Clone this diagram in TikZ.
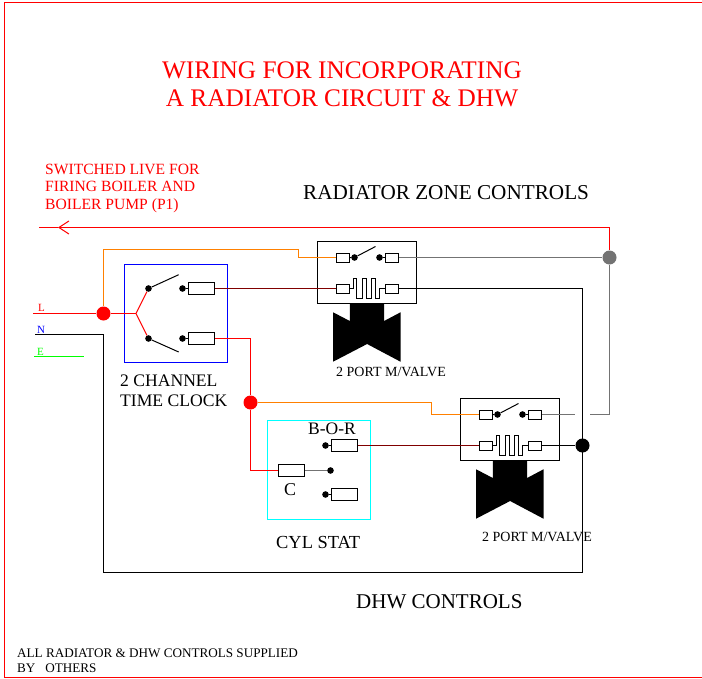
\documentclass[tikz,border=0pt]{standalone}
\usepackage{fontspec}
\setmainfont{Liberation Serif}
\usetikzlibrary{arrows.meta}
\definecolor{wireorange}{RGB}{255,128,0}
\definecolor{wiremaroon}{RGB}{128,0,0}
\definecolor{statcyan}{RGB}{0,255,255}
\tikzset{
  wire/.style={line width=1pt},
  term/.style={draw,rectangle,inner sep=0pt,minimum width=13pt,minimum height=9pt,line width=1pt},
  bigterm/.style={term,minimum width=26pt,minimum height=12pt},
  dot/.style={circle,fill=black,inner sep=0pt,minimum size=6.6pt},
  joint/.style={circle,inner sep=0pt,minimum size=14pt},
  tag/.style={inner sep=0pt,anchor=west,align=left},
  valve/.pic={
    \fill (15.6,70.8) -- (32.3,79.5) -- (32.3,62) -- (66.6,62) -- (66.6,79.5) -- (83,70.8)
      -- (83,120.2) -- (49.6,102.5) -- (15.6,120.2) -- cycle;
    \node[draw,rectangle,inner sep=0pt,minimum width=99pt,minimum height=62pt,line width=1pt,fill=white] (-box) at (49.5,31) {};
    \node[term] (-swin)  at (25,16) {};
    \node[term] (-swout) at (74,16) {};
    \node[term] (-in)    at (25,47) {};
    \node[term] (-out)   at (74,47) {};
    \node[dot]  (-d1)    at (37,16) {};
    \node[dot]  (-d2)    at (62,16) {};
    \coordinate (-arm) at (58,5);
    \draw[wire] (-swin) -- (-d1) -- (-arm);
    \draw[wire] (-d2) -- (-swout);
    % heater coil
    \draw[wire] (-in.east) -- ++(3.5,0) |- (39,37) |- (45,57) |- (49,37) |- (54,57) |- (58,37)
      |- (62,57) |- (67.5,47) -- (-out.west);
  }
}
\begin{document}
\begin{tikzpicture}[x=1pt,y=-1pt]
  \useasboundingbox (0,0) rectangle (702,678);

  % outer frame, no right side
  \coordinate (f1) at (702,2.5);
  \coordinate (f2) at (4.5,2.5);
  \coordinate (f3) at (4.5,677);
  \coordinate (f4) at (702,677);
  \draw[red,wire] (f1) -- (f2) -- (f3) -- (f4);

  \begin{scope}[every node/.style={tag}]
    \node[red,anchor=center,align=center,font=\fontsize{25.3}{28}\selectfont] (title) at (342,84) {WIRING FOR INCORPORATING\\A RADIATOR CIRCUIT \& DHW};
    \node[red,font=\fontsize{15.6}{17.5}\selectfont] (live) at (45,188) {SWITCHED LIVE FOR\\FIRING BOILER AND\\BOILER PUMP (P1)};
    \node[font=\fontsize{21.2}{23}\selectfont] (zonetxt) at (303,192.7) {RADIATOR ZONE CONTROLS};
    \node[font=\fontsize{17.6}{20}\selectfont] (clocktxt) at (120,391) {2 CHANNEL\\TIME CLOCK};
    \node[font=\fontsize{18.4}{19}\selectfont] (stattxt) at (276,542) {CYL STAT};
    \node[font=\fontsize{21}{23}\selectfont] (dhwtxt) at (356,601.7) {DHW CONTROLS};
    \node[font=\fontsize{14}{15}\selectfont] (v1txt) at (336,372) {2 PORT M/VALVE};
    \node[font=\fontsize{14}{15}\selectfont] (v2txt) at (482,536.5) {2 PORT M/VALVE};
    \node[font=\fontsize{17.5}{19}\selectfont] (bortxt) at (308,429) {B-O-R};
    \node[font=\fontsize{18}{19}\selectfont] (ctxt) at (284,490) {C};
    \node[font=\fontsize{13.15}{15}\selectfont] (notetxt) at (17,660.5) {ALL RADIATOR \& DHW CONTROLS SUPPLIED\\BY\ \ \ OTHERS};
    \node[red,font=\fontsize{11}{11}\selectfont] (ltxt) at (38,308) {L};
    \node[blue,font=\fontsize{11}{11}\selectfont] (ntxt) at (37,330) {N};
    \node[green,font=\fontsize{11}{11}\selectfont] (etxt) at (37,352) {E};
  \end{scope}

  % boxes
  \node[draw=blue,rectangle,wire,inner sep=0pt,minimum width=103pt,minimum height=98pt] (clock) at (176,313.5) {};
  \node[draw=statcyan,rectangle,wire,inner sep=0pt,minimum width=103pt,minimum height=99pt] (stat) at (319,470) {};

  \pic (rad) at (317.5,241.5) {valve};
  \pic (dhw) at (460.5,398.5) {valve};

  \begin{scope}[every node/.style={dot}]
    \node (c1) at (148.5,288.5) {};
    \node (c2) at (148.5,338.5) {};
    \node (c3) at (182.5,288.5) {};
    \node (c4) at (182.5,338.5) {};
    \node (s1) at (330.5,470.5) {};
    \node (s2) at (325.5,445.5) {};
    \node (s3) at (325.5,494.5) {};
  \end{scope}

  \begin{scope}[every node/.style={bigterm}]
    \node (r1) at (201.5,288.5) {};
    \node (r2) at (201.5,338.5) {};
    \node (r3) at (291.5,470.5) {};
    \node (r4) at (344.5,445.5) {};
    \node (r5) at (344.5,494.5) {};
  \end{scope}

  \node[joint,fill=red] (lj) at (103.5,313.5) {};
  \node[joint,fill=red] (tj) at (250.5,402.5) {};
  \node[joint,fill=black!55] (zj) at (609.5,257.5) {};
  \node[joint,fill=black] (dj) at (582.5,445.5) {};

  \coordinate (l0) at (33,313.5);
  \coordinate (n0) at (35,334.5);
  \coordinate (e0) at (34,356.5);
  \coordinate (e1) at (83.7,356.5);
  \coordinate (fork) at (136,313.5);
  \coordinate (arm1) at (178.7,274.7);
  \coordinate (arm2) at (178.7,352);
  \coordinate (o1) at (298.5,249.5);
  \coordinate (o2) at (431.5,402.5);
  \coordinate (tip) at (58,227.5);
  \coordinate (live0) at (39,227.5);
  \coordinate (gap1) at (575,414.5);
  \coordinate (gap2) at (590,414.5);
  \coordinate (nb) at (103.5,572.5);
  \coordinate (nr) at (582.5,572.5);

  \begin{scope}[every edge/.style={draw,wire}]
    \path (c1) edge (arm1);
    \path (c2) edge (arm2);
    \path (c3) edge (r1);
    \path (c4) edge (r2);
    \path (s2) edge (r4);
    \path (s3) edge (r5);
    \path (l0) edge[red] (lj);
    \path (lj) edge[red] (fork);
    \path (fork) edge[red] (c1);
    \path (fork) edge[red] (c2);
    \path (e0) edge[green] (e1);
    \path (r3) edge[black!55] (s1);
    \path (rad-swout) edge[black!55] (zj);
    \path (r1) edge[wiremaroon] (rad-in);
    \path (r4) edge[wiremaroon] (dhw-in);
    \path (dhw-swout) edge[black!55] (gap1);
    \path (dhw-out) edge (dj);
  \end{scope}

  \draw[wire,wireorange] (lj.north) |- (o1) |- (rad-swin.west);
  \draw[wire,wireorange] (tj.east) -- (o2) |- (dhw-swin.west);
  \draw[wire,red] (r2.east) -| (tj.north);
  \draw[wire,red] (tj.south) |- (r3.west);
  \draw[wire] (rad-out.east) -| (nr) -- (nb) |- (n0);
  \draw[wire,black!55] (gap2) -| (zj.south);
  \draw[wire,red,-{Straight Barb[length=10pt,width=13pt]}] (zj.north) |- (tip);
  \draw[wire,red] (tip) -- (live0);
\end{tikzpicture}
\end{document}
